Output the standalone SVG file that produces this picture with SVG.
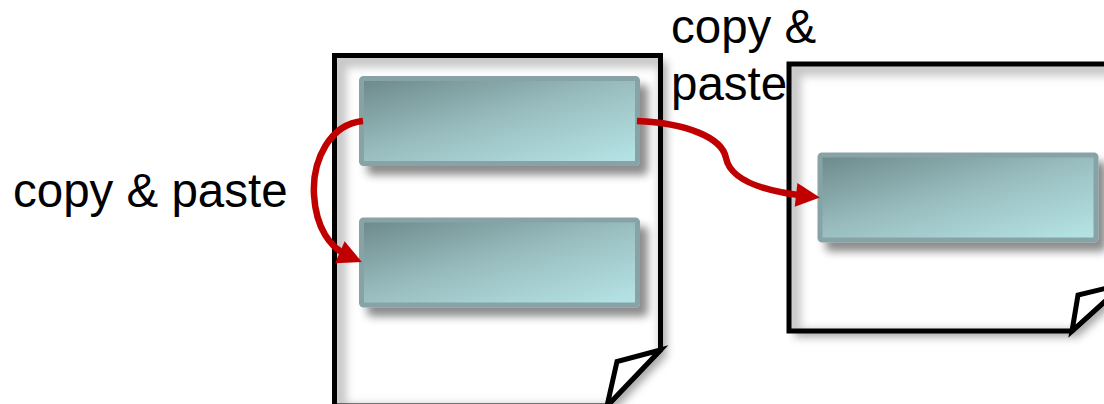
<svg xmlns="http://www.w3.org/2000/svg" width="1104" height="404" viewBox="0 0 1104 404">
  <style>
    .page-fill { fill: #ffffff; filter: url(#pageShadow); }
    .page-line { fill: none; stroke: #000000; stroke-width: 5; stroke-linejoin: miter; }
    .inset { fill: none; stroke: #000000; stroke-opacity: 0.22; stroke-width: 14; filter: url(#soft); }
    .flap { fill: #ffffff; stroke: #000000; stroke-width: 5; stroke-linejoin: miter; }
    .box { fill: url(#boxFill); stroke: #87a3a5; stroke-width: 5; filter: url(#boxShadow); }
    .link { fill: none; stroke: #c00000; stroke-width: 6.5; marker-end: url(#head); }
    .label { font-family: "Liberation Sans", Arial, sans-serif; font-size: 47.5px; fill: #000000; }
  </style>
  <defs>
    <linearGradient id="boxFill" x1="0" y1="0" x2="0.9" y2="1">
      <stop offset="0" stop-color="#6c898a"/>
      <stop offset="0.5" stop-color="#99bdbf"/>
      <stop offset="1" stop-color="#b4e2e4"/>
    </linearGradient>
    <filter id="pageShadow" x="-10%" y="-10%" width="125%" height="125%">
      <feDropShadow dx="6" dy="6" stdDeviation="4" flood-color="#000" flood-opacity="0.35"/>
    </filter>
    <filter id="soft" x="-10%" y="-10%" width="120%" height="120%">
      <feGaussianBlur stdDeviation="4"/>
    </filter>
    <filter id="boxShadow" x="-10%" y="-20%" width="130%" height="150%">
      <feDropShadow dx="8" dy="9" stdDeviation="4" flood-color="#000" flood-opacity="0.45"/>
    </filter>
    <clipPath id="clipLeft">
      <path d="M334.5,55.5 H660.5 V350 L607,406 H334.5 Z"/>
    </clipPath>
    <clipPath id="clipRight">
      <path d="M789,64 H1124 V284 L1072,331 H789 Z"/>
    </clipPath>
    <marker id="head" markerUnits="userSpaceOnUse" markerWidth="24" markerHeight="24" refX="10" refY="12" orient="auto" overflow="visible">
      <path d="M0,0 L24,12 L0,24 Z" fill="#c00000"/>
    </marker>
  </defs>

  <!-- left document -->
  <g id="doc-left">
    <path class="page-fill" d="M334.5,55.5 H660.5 V350 L607,406 H334.5 Z"/>
    <g clip-path="url(#clipLeft)">
      <path class="inset" transform="translate(5,5)" d="M334.5,55.5 H660.5 V350 L607,406 H334.5 Z"/>
    </g>
    <path class="page-line" d="M334.5,55.5 H660.5 V350 L607,406 H334.5 Z"/>
    <path class="flap" d="M660.5,350 L617,361.5 L607,406 Z"/>
  </g>

  <!-- right document -->
  <g id="doc-right">
    <path class="page-fill" d="M789,64 H1124 V284 L1072,331 H789 Z"/>
    <g clip-path="url(#clipRight)">
      <path class="inset" transform="translate(5,5)" d="M789,64 H1124 V284 L1072,331 H789 Z"/>
    </g>
    <path class="page-line" d="M789,64 H1124 V284 L1072,331 H789 Z"/>
    <path class="flap" d="M1124,284 L1078,295 L1072,331 Z"/>
  </g>

  <g id="block-a">
    <rect class="box" x="361.5" y="78.5" width="276" height="85" rx="2"/>
  </g>
  <g id="block-b">
    <rect class="box" x="361.5" y="220" width="276" height="85" rx="2"/>
  </g>
  <g id="block-c">
    <rect class="box" x="820" y="155" width="276" height="85" rx="2"/>
  </g>

  <g id="connectors">
    <path class="link" d="M363,121 C330,124 312,160 314,195 C316,228 330,248 349,256.3"/>
    <path class="link" d="M637,121 C685,123 722,137 726,158 C731,183 770,192 806,196"/>
  </g>

  <g id="labels">
    <text class="label" x="13" y="207">copy &amp; paste</text>
    <text class="label" x="671" y="43">copy &amp;</text>
    <text class="label" x="671" y="100">paste</text>
  </g>
</svg>
